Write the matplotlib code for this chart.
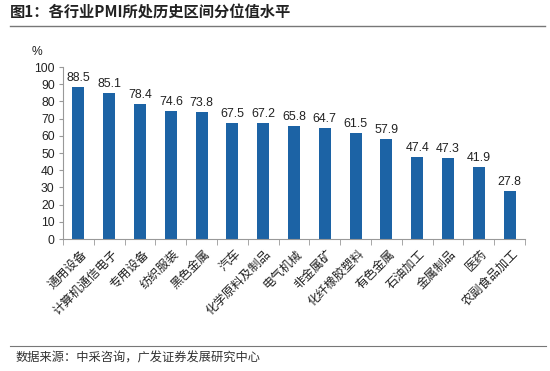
import matplotlib
matplotlib.use("Agg")
import matplotlib.pyplot as plt
import numpy as np
from matplotlib.lines import Line2D

plt.rcParams['font.family'] = ['Liberation Sans', 'Noto Sans CJK SC', 'DejaVu Sans']

categories = ["通用设备", "计算机通信电子", "专用设备", "纺织服装", "黑色金属", "汽车",
              "化学原料及制品", "电气机械", "非金属矿", "化纤橡胶塑料", "有色金属",
              "石油加工", "金属制品", "医药", "农副食品加工"]
values = [88.5, 85.1, 78.4, 74.6, 73.8, 67.5, 67.2, 65.8, 64.7, 61.5, 57.9, 47.4, 47.3, 41.9, 27.8]
yticks = list(range(0, 101, 10))

title = "图1：各行业PMI所处历史区间分位值水平"
source = "数据来源：中采咨询，广发证券发展研究中心"

W, H = 550, 371
fig = plt.figure(figsize=(W/100, H/100), dpi=100)
ax = fig.add_axes([63/W, 1-239/H, (525-63)/W, (239-67)/H])

x = np.arange(len(categories))
ax.bar(x, values, width=0.39, color="#1C63A5", zorder=2)
for xi, v in zip(x, values):
    ax.text(xi, v + 1.8, f"{v:.1f}", ha="center", va="bottom", fontsize=8.9, color="#222222")

ax.set_xlim(-0.5, len(categories) - 0.5)
ax.set_ylim(0, 100)
ax.set_yticks(yticks)
ax.set_yticklabels([str(t) for t in yticks], fontsize=8.7, color="#222222")
ax.set_xticks(x + 0.05)
ax.set_xticklabels(categories, rotation=45, ha="right", rotation_mode="anchor",
                   fontsize=8.8, family=['Noto Sans CJK SC', 'DejaVu Sans'], color="#222222")
ax.tick_params(axis="x", length=0, pad=6)
ax.tick_params(axis="y", length=3, color="#999999", pad=3)
ax.set_xticks(np.arange(-0.5, len(categories), 1.0), minor=True)
ax.tick_params(axis="x", which="minor", length=4, color="#999999", direction="out")
for s in ["top", "right"]:
    ax.spines[s].set_visible(False)
ax.spines["left"].set_color("#999999")
ax.spines["bottom"].set_color("#999999")
ax.spines["left"].set_linewidth(0.8)
ax.spines["bottom"].set_linewidth(0.8)

fig.text(37/W, 1-52/H, "%", fontsize=8.7, ha="center", va="center", color="#222222")

fig.text(10/W, 1-13/H, title, fontsize=11, fontweight="bold", ha="left", va="center",
         family=['Noto Sans CJK SC', 'DejaVu Sans'], color="#222222")
fig.add_artist(Line2D([10/W, 545/W], [1-25.5/H, 1-25.5/H], color="#777777", linewidth=1.0))
fig.add_artist(Line2D([10/W, 546/W], [1-346/H, 1-346/H], color="#777777", linewidth=0.8))
fig.text(16/W, 1-358/H, source, fontsize=8.8, ha="left", va="center",
         family=['Noto Sans CJK SC', 'DejaVu Sans'], color="#333333")

fig.savefig("out.png", dpi=100)
